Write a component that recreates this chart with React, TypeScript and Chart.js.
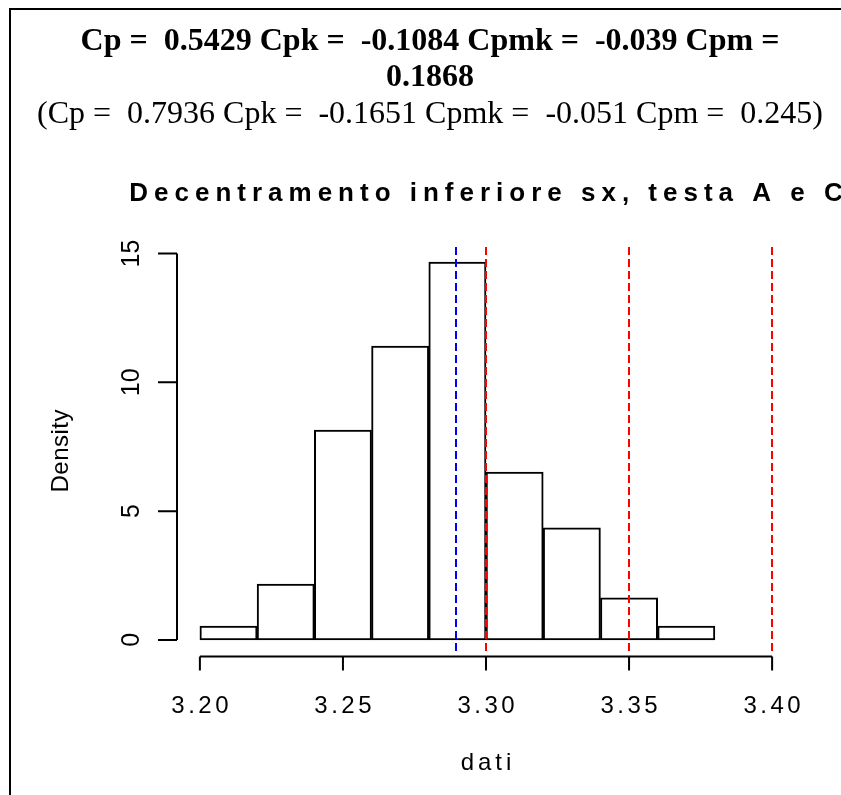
import React, { useEffect, useRef } from "react";
import { Chart, registerables } from "chart.js";

Chart.register(...registerables);

// ---- data ----
const binStarts = [3.2, 3.22, 3.24, 3.26, 3.28, 3.3, 3.32, 3.34, 3.36];
const binWidth = 0.02;
const densities = [0.54, 2.17, 8.15, 11.41, 14.67, 6.52, 4.35, 1.63, 0.54];
const xTicks = [3.2, 3.25, 3.3, 3.35, 3.4];
const xTickLabels = ["3.20", "3.25", "3.30", "3.35", "3.40"];
const yTicks = [0, 5, 10, 15];
const yTickLabels = ["0", "5", "10", "15"];
const meanLines = [3.2895];
const specLines = [3.3, 3.35, 3.4];
const xLimits = [3.2, 3.4];
const yLimits = [0, 14.67];
const titleLine1 = "Cp =  0.5429 Cpk =  -0.1084 Cpmk =  -0.039 Cpm =";
const titleLine2 = "0.1868";
const titleLine3 = "(Cp =  0.7936 Cpk =  -0.1651 Cpmk =  -0.051 Cpm =  0.245)";
const mainTitle = "Decentramento inferiore sx, testa A e C";
const xLabel = "dati";
const yLabel = "Density";

const SANS = "'Liberation Sans', Arial, sans-serif";
const SERIF = "'Liberation Serif', 'Times New Roman', serif";

function drawText(
  ctx: CanvasRenderingContext2D,
  text: string,
  x: number,
  y: number,
  font: string,
  ls: number,
  rotate: boolean
) {
  ctx.save();
  ctx.font = font;
  ctx.fillStyle = "#000";
  ctx.textAlign = "left";
  ctx.textBaseline = "alphabetic";
  ctx.translate(x, y);
  if (rotate) ctx.rotate(-Math.PI / 2);
  const chars = Array.from(text);
  const widths = chars.map((c) => ctx.measureText(c).width);
  let total: number;
  if (ls === 0) total = ctx.measureText(text).width;
  else total = widths.reduce((a, b) => a + b, 0) + ls * (chars.length - 1);
  let cx = -total / 2;
  if (ls === 0) {
    ctx.fillText(text, cx, 0);
  } else {
    chars.forEach((c, i) => {
      ctx.fillText(c, cx, 0);
      cx += widths[i] + ls;
    });
  }
  ctx.restore();
}

const rPlugin = {
  id: "rstyle",
  afterDatasetsDraw(chart: any) {
    const ctx: CanvasRenderingContext2D = chart.ctx;
    const xs = chart.scales.x;
    const area = chart.chartArea;
    ctx.save();
    ctx.lineWidth = 2;
    ctx.setLineDash([8, 4]);
    const drawV = (v: number, color: string) => {
      const px = Math.round(xs.getPixelForValue(v));
      ctx.strokeStyle = color;
      ctx.beginPath();
      ctx.moveTo(px, area.top);
      ctx.lineTo(px, area.bottom);
      ctx.stroke();
    };
    meanLines.forEach((v) => drawV(v, "#0000ff"));
    specLines.forEach((v) => drawV(v, "#ff0000"));
    ctx.restore();
  },
  afterDraw(chart: any) {
    const ctx: CanvasRenderingContext2D = chart.ctx;
    const xs = chart.scales.x;
    const ys = chart.scales.y;
    const area = chart.chartArea;
    ctx.save();
    ctx.strokeStyle = "#000";
    ctx.lineWidth = 2;
    // outer frame
    ctx.strokeRect(10, 9, 1000, 1000);

    // x axis
    const axY = area.bottom + 1.5;
    ctx.beginPath();
    ctx.moveTo(xs.getPixelForValue(xTicks[0]), axY);
    ctx.lineTo(xs.getPixelForValue(xTicks[xTicks.length - 1]), axY);
    xTicks.forEach((t) => {
      const px = xs.getPixelForValue(t);
      ctx.moveTo(px, axY);
      ctx.lineTo(px, axY + 14);
    });
    ctx.stroke();
    xTicks.forEach((t, i) => {
      drawText(ctx, xTickLabels[i], xs.getPixelForValue(t), 713, `24px ${SANS}`, 3.5, false);
    });

    // y axis
    const axX = area.left;
    ctx.beginPath();
    ctx.moveTo(axX, ys.getPixelForValue(yTicks[0]));
    ctx.lineTo(axX, ys.getPixelForValue(yTicks[yTicks.length - 1]));
    yTicks.forEach((t) => {
      const py = ys.getPixelForValue(t);
      ctx.moveTo(axX, py);
      ctx.lineTo(axX - 19, py);
    });
    ctx.stroke();
    yTicks.forEach((t, i) => {
      drawText(ctx, yTickLabels[i], 139, ys.getPixelForValue(t), `25px ${SANS}`, 0, true);
    });

    const cxPlot = (area.left + area.right) / 2;
    const cyPlot = (area.top + area.bottom) / 2;
    drawText(ctx, xLabel, cxPlot, 770, `24px ${SANS}`, 4, false);
    drawText(ctx, yLabel, 68, cyPlot, `24px ${SANS}`, 0.5, true);

    // main title
    drawText(ctx, mainTitle, cxPlot, 201, `bold 26px ${SANS}`, 6, false);

    // header lines
    drawText(ctx, titleLine1, 430, 50, `bold 32px ${SERIF}`, 0, false);
    drawText(ctx, titleLine2, 430, 86, `bold 32px ${SERIF}`, 0, false);
    drawText(ctx, titleLine3, 430, 123, `32px ${SERIF}`, 0, false);
    ctx.restore();
  },
};

export default function App() {
  const ref = useRef<HTMLCanvasElement | null>(null);
  useEffect(() => {
    if (!ref.current) return;
    const xPad = (xLimits[1] - xLimits[0]) * 0.04;
    const yPad = (yLimits[1] - yLimits[0]) * 0.04;
    const chart = new Chart(ref.current, {
      type: "bar",
      data: {
        datasets: [
          {
            data: binStarts.map((s, i) => ({ x: s + binWidth / 2, y: densities[i] })),
            backgroundColor: "#ffffff",
            borderColor: "#000000",
            borderWidth: 2,
            borderSkipped: false,
            barPercentage: 1,
            categoryPercentage: 1,
          },
        ],
      },
      options: {
        animation: false,
        responsive: false,
        devicePixelRatio: 1,
        layout: { padding: { left: 177, right: 46, top: 247, bottom: 140 } },
        plugins: { legend: { display: false }, tooltip: { enabled: false }, title: { display: false } },
        scales: {
          x: { type: "linear", display: false, offset: false, min: xLimits[0] - xPad, max: xLimits[1] + xPad },
          y: { type: "linear", display: false, min: yLimits[0] - yPad, max: yLimits[1] + yPad },
        },
      },
      plugins: [rPlugin],
    } as any);
    return () => chart.destroy();
  }, []);
  return (
    <div style={{ position: "fixed", left: 0, top: 0, width: 841, height: 795, background: "#fff" }}>
      <canvas ref={ref} width={841} height={795} style={{ display: "block" }} />
    </div>
  );
}
